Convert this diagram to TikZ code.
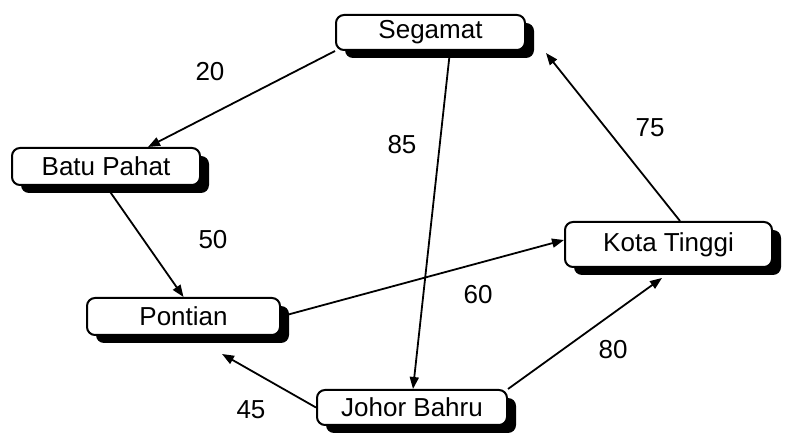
\documentclass[tikz,border=0pt]{standalone}
\usepackage{fontspec}
\setmainfont{Liberation Sans}
\usetikzlibrary{shadows,arrows.meta,backgrounds}
\begin{document}
\begin{tikzpicture}[x=1pt,y=1pt,
  town/.style={draw, line width=2pt, rounded corners=8pt, fill=white,
    inner sep=0pt, font=\fontsize{26}{30}\selectfont,
    drop shadow={shadow xshift=9pt, shadow yshift=-8pt, fill=black, opacity=1}},
  link/.style={line width=1.8pt, -{Triangle[length=12pt,width=9pt]}},
  dist/.style={font=\fontsize{26}{30}\selectfont, inner sep=0pt}]
\useasboundingbox (0,0) rectangle (785,434);
\node[town, minimum width=189pt, minimum height=35pt] (seg) at (430.5,401.5) {Segamat};
\node[town, minimum width=188pt, minimum height=37pt] (bp) at (106,267.5) {Batu Pahat};
\node[town, minimum width=193pt, minimum height=37pt] (pon) at (183.5,117.5) {Pontian};
\node[town, minimum width=207pt, minimum height=45pt] (kt) at (668.5,189.5) {Kota Tinggi};
\node[town, minimum width=190pt, minimum height=35pt] (jb) at (412,26.5) {Johor Bahru};
\begin{scope}[on background layer]
\draw[link] (seg.south west) -- ([xshift=42pt]bp.north);
\draw[link] ([xshift=19.5pt]seg.south) -- ([xshift=1pt]jb.north);
\draw[link] (bp.south) -- (pon.north);
\draw[link] (pon.east) -- ([yshift=4.5pt]kt.west);
\draw[link] ([xshift=11.5pt]kt.north) -- ([shift={(20pt,-2pt)}]seg.south east);
\draw[link] (jb.west) -- ([shift={(38.5pt,-18pt)}]pon.south);
\draw[link] (jb.north east) -- ([shift={(-6.5pt,-10pt)}]kt.south);
\end{scope}
\node[dist] (d20) at (210,362) {20};
\node[dist] (d85) at (402,289) {85};
\node[dist] (d75) at (650,306) {75};
\node[dist] (d50) at (213,194) {50};
\node[dist] (d60) at (478,139) {60};
\node[dist] (d80) at (613,84) {80};
\node[dist] (d45) at (251,24) {45};
\end{tikzpicture}
\end{document}
